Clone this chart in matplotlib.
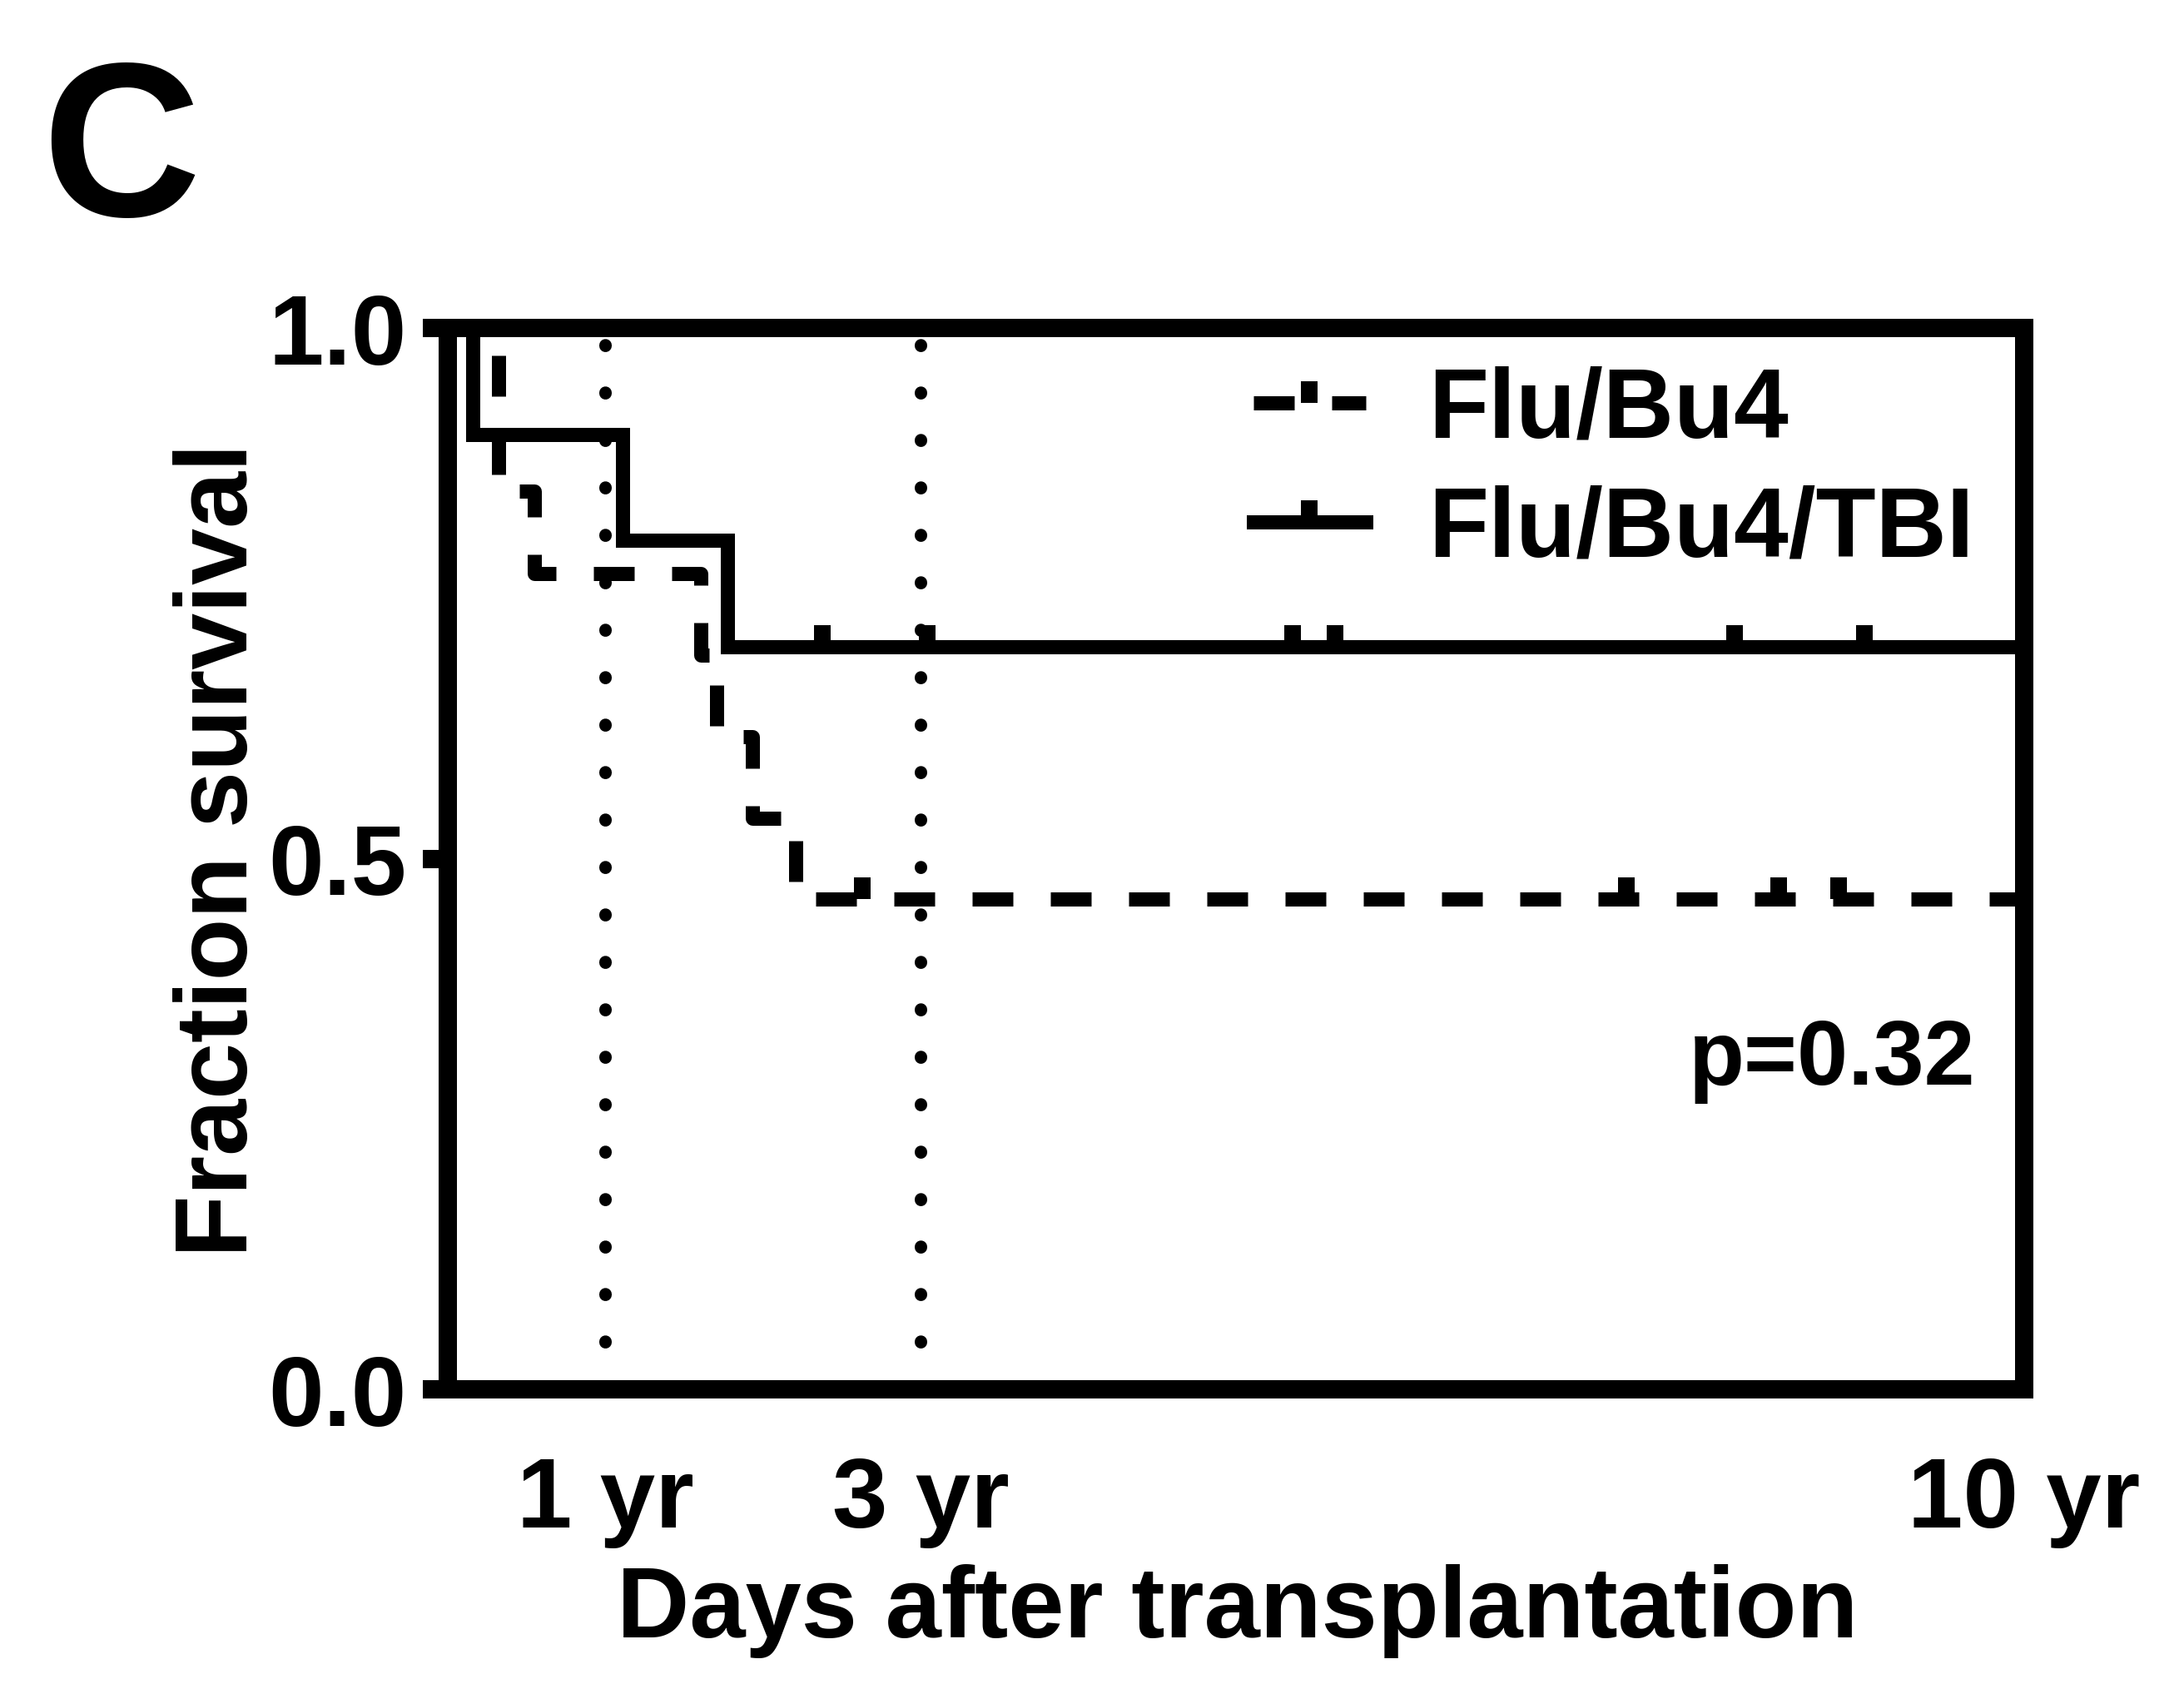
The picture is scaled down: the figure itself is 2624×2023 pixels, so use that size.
import numpy as np
import matplotlib.pyplot as plt
from matplotlib.lines import Line2D

plt.rcParams['font.family'] = ['Liberation Sans', 'DejaVu Sans']
plt.rcParams['font.weight'] = 'bold'

PX = 0.72  # points per pixel at dpi 100

# Kaplan-Meier steps: days after transplantation, fraction surviving
flubu4_days = [0, 117, 200, 585, 623, 705, 805]
flubu4_surv = [1.0, 0.846, 0.769, 0.692, 0.615, 0.538, 0.462]
flubu4_censored = [960, 2728, 3081, 3220]

tbi_days = [0, 58, 404, 648]
tbi_surv = [1.0, 0.9, 0.8, 0.7]
tbi_censored = [868, 1110, 1956, 2055, 2980, 3280]

follow_up_end = 3650
landmark_days = [365, 1095]
tick_days = [365, 1095, 3650]
tick_labels = ['1 yr', '3 yr', '10 yr']
group_labels = ['Flu/Bu4', 'Flu/Bu4/TBI']
p_value = 'p=0.32'

LINE_W = 17 * PX
SPINE_W = 22 * PX
DASHES = (0, (49 / 17, 45 / 17))
CENSOR = dict(marker=2, markersize=26 * PX, markeredgewidth=20 * PX)


def km_curve(ax, days, surv, censored, ls):
    x = list(days) + [follow_up_end]
    y = list(surv) + [surv[-1]]
    ax.step(x, y, where='post', color='black', lw=LINE_W, linestyle=ls,
            solid_joinstyle='miter', dash_capstyle='butt', zorder=3, clip_on=False)
    idx = np.searchsorted(days, censored, side='right') - 1
    ax.plot(censored, np.array(surv)[idx], linestyle='none', color='black',
            zorder=3, **CENSOR)


fig = plt.figure(figsize=(26.24, 20.24), dpi=100)
ax = fig.add_axes([538 / 2624, 1 - 1670 / 2024, (2432 - 538) / 2624, (1670 - 395) / 2024])

# landmark lines at 1 and 3 years
for d in landmark_days:
    ax.axvline(d, color='black', lw=15 * PX, linestyle=(0, (0.05, 3.75)),
               dash_capstyle='round', zorder=1)

km_curve(ax, flubu4_days, flubu4_surv, flubu4_censored, DASHES)
km_curve(ax, tbi_days, tbi_surv, tbi_censored, '-')

ax.set_xlim(0, follow_up_end)
ax.set_ylim(0, 1)
ax.set_xticks(tick_days, tick_labels)
ax.set_yticks([0, 0.5, 1.0], ['0.0', '0.5', '1.0'])
ax.tick_params(axis='x', length=0, pad=57, labelsize=86)
ax.tick_params(axis='y', length=30 * PX, width=SPINE_W, pad=14, labelsize=86)
for sp in ax.spines.values():
    sp.set_linewidth(SPINE_W)
    sp.set_capstyle('projecting')

handles = [
    Line2D([], [], color='black', lw=LINE_W, linestyle=DASHES, **CENSOR),
    Line2D([], [], color='black', lw=LINE_W, linestyle='-', **CENSOR),
]
ax.legend(handles, group_labels, loc='upper left', bbox_to_anchor=(1506 / 2624, 1 - 440 / 2024),
          bbox_transform=fig.transFigure, frameon=False, borderpad=0, borderaxespad=0,
          handlelength=1.14, handletextpad=0.64, labelspacing=0.27, numpoints=1,
          prop={'size': 85, 'weight': 'bold'})

ax.text(3538, 0.288, p_value, ha='right', va='baseline', fontsize=79, fontweight='bold')

fig.text(1487 / 2624, 1 - 1967 / 2024, 'Days after transplantation', ha='center',
         va='baseline', fontsize=87, fontweight='bold')
fig.text(297 / 2624, 1 - 1021 / 2024, 'Fraction survival', rotation=90, rotation_mode='anchor',
         ha='center', va='baseline', fontsize=88, fontweight='bold')
fig.text(50 / 2624, 1 - 259 / 2024, 'C', ha='left', va='baseline', fontsize=190,
         fontweight='bold')

fig.savefig('out.png', dpi=100)
